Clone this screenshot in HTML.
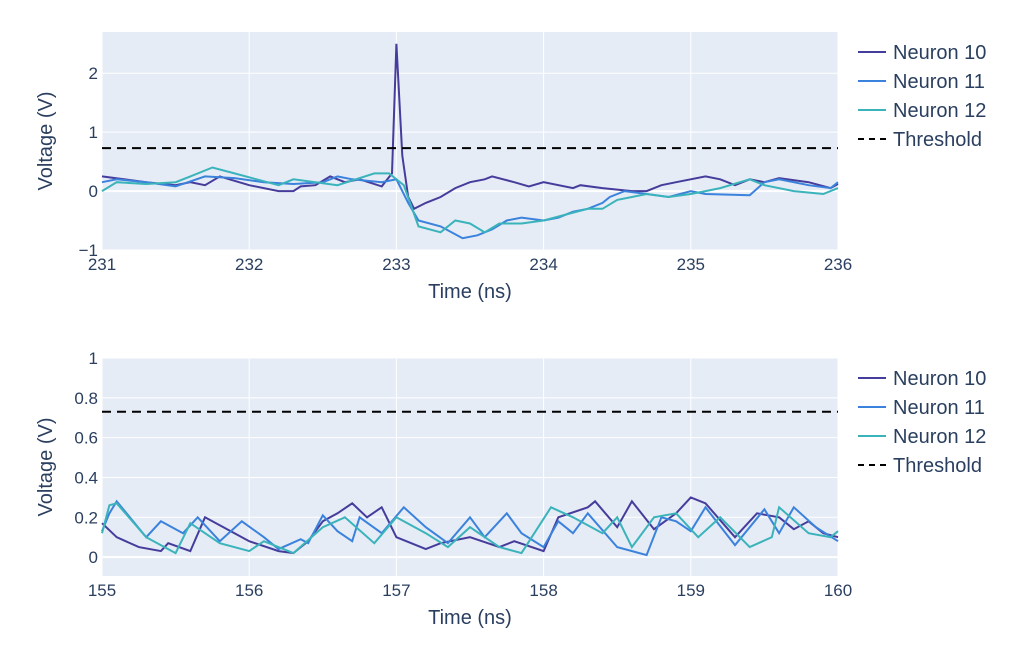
<!DOCTYPE html><html><head><style>body{margin:0;background:#fff}svg{font-family:"Liberation Sans","DejaVu Sans",sans-serif}</style></head><body>
<svg id="s" width="1023" height="648" xmlns="http://www.w3.org/2000/svg"></svg>
<script>
const S=document.getElementById('s');let h='';
const C=['#463c9b','#3b82dc','#3ab3bb'];
function plot(y0,y1,ymin,ymax,xmin,ticksY,fmt,data){
 const X0=102,X1=838;const px=t=>X0+(t-xmin)/5*(X1-X0);const py=v=>y1-(v-ymin)/(ymax-ymin)*(y1-y0);
 h+=`<rect x="${X0}" y="${y0}" width="${X1-X0}" height="${y1-y0}" fill="#e5ecf6"/>`;
 for(let i=0;i<=5;i++){const x=px(xmin+i);h+=`<line x1="${x}" x2="${x}" y1="${y0}" y2="${y1}" stroke="#fff"/>`;h+=`<text x="${x}" y="${y1+20}" font-size="17" fill="#2a3f5f" text-anchor="middle">${xmin+i}</text>`;}
 ticksY.forEach(v=>{const y=py(v);h+=`<line x1="${X0}" x2="${X1}" y1="${y}" y2="${y}" stroke="#fff" stroke-width="${v==0?2:1}"/>`;h+=`<text x="${X0-4}" y="${y+6}" font-size="17" fill="#2a3f5f" text-anchor="end">${fmt(v)}</text>`;});
 data.forEach((d,i)=>{let p=[];for(let k=0;k<d.length;k+=2)p.push(px(d[k]).toFixed(1)+','+py(d[k+1]).toFixed(1));h+=`<polyline points="${p.join(' ')}" fill="none" stroke="${C[i]}" stroke-width="2"/>`;});
 const ty=py(0.73);h+=`<line x1="${X0}" x2="${X1}" y1="${ty}" y2="${ty}" stroke="#000" stroke-width="2" stroke-dasharray="9,6"/>`;
 h+=`<text x="470" y="${y1+48}" font-size="20" fill="#2a3f5f" text-anchor="middle">Time (ns)</text>`;
 h+=`<text transform="translate(52,${(y0+y1)/2}) rotate(-90)" font-size="20" fill="#2a3f5f" text-anchor="middle">Voltage (V)</text>`;
 const names=['Neuron 10','Neuron 11','Neuron 12','Threshold'];
 names.forEach((n,i)=>{const y=y0+20+i*29;h+=`<line x1="858" x2="886" y1="${y}" y2="${y}" stroke="${i<3?C[i]:'#000'}" stroke-width="2" ${i==3?'stroke-dasharray="6,5"':''}/>`;h+=`<text x="893" y="${y+7}" font-size="20" fill="#2a3f5f">${n}</text>`;});
}
plot(32,250,-1,2.7,231,[-1,0,1,2],v=>v==-1?'−1':v,[
[231,.25,231.3,.15,231.5,.1,231.6,.15,231.7,.1,231.8,.25,232,.1,232.2,0,232.3,0,232.35,.08,232.45,.1,232.55,.25,232.65,.15,232.75,.2,232.9,.08,232.97,.3,233,2.5,233.04,.6,233.08,-.1,233.12,-.3,233.2,-.2,233.3,-.1,233.4,.05,233.5,.15,233.6,.2,233.65,.25,233.8,.15,233.9,.08,234,.15,234.2,.05,234.25,.1,234.4,.05,234.6,0,234.7,0,234.8,.1,234.9,.15,235.1,.25,235.2,.2,235.3,.1,235.4,.2,235.5,.15,235.6,.22,235.8,.15,235.95,.05,236,.12],
[231,.15,231.1,.2,231.3,.15,231.5,.08,231.7,.25,231.9,.22,232.1,.15,232.3,.12,232.5,.15,232.6,.25,232.7,.2,232.9,.15,233,.2,233.08,-.2,233.15,-.5,233.3,-.6,233.45,-.8,233.55,-.75,233.65,-.65,233.75,-.5,233.85,-.45,234,-.5,234.1,-.45,234.2,-.35,234.3,-.3,234.4,-.2,234.45,-.1,234.55,0,234.7,-.05,234.85,-.1,235,0,235.1,-.05,235.4,-.07,235.5,.15,235.6,.2,235.8,.1,235.95,.05,236,.15],
[231,0,231.1,.15,231.3,.12,231.5,.15,231.6,.25,231.75,.4,231.9,.3,232.2,.1,232.3,.2,232.6,.1,232.85,.3,232.95,.3,233.05,.1,233.15,-.6,233.3,-.7,233.4,-.5,233.5,-.55,233.6,-.7,233.7,-.55,233.85,-.55,234,-.5,234.15,-.4,234.3,-.3,234.4,-.3,234.5,-.15,234.6,-.1,234.7,-.05,234.85,-.1,235,-.05,235.1,0,235.2,.05,235.4,.2,235.5,.1,235.7,0,235.9,-.05,236,.05]]);
plot(358,576,-0.095,1,155,[0,.2,.4,.6,.8,1],v=>v,[
[155,.17,155.1,.1,155.25,.05,155.4,.03,155.45,.07,155.6,.03,155.7,.2,155.9,.12,156,.08,156.2,.03,156.3,.02,156.4,.08,156.5,.18,156.6,.22,156.7,.27,156.8,.2,156.9,.25,157,.1,157.2,.04,157.3,.07,157.5,.1,157.7,.05,157.8,.08,158,.03,158.1,.2,158.3,.25,158.35,.28,158.5,.15,158.6,.28,158.75,.14,158.9,.22,159,.3,159.1,.27,159.3,.1,159.45,.22,159.6,.2,159.7,.14,159.8,.18,159.9,.12,160,.1],
[155,.13,155.05,.22,155.1,.28,155.3,.1,155.4,.18,155.55,.12,155.65,.2,155.8,.08,155.95,.18,156.1,.1,156.2,.04,156.35,.09,156.4,.07,156.5,.21,156.6,.13,156.7,.08,156.75,.2,156.9,.12,157.05,.25,157.2,.15,157.35,.07,157.5,.2,157.6,.1,157.75,.22,157.85,.12,158,.05,158.1,.18,158.2,.12,158.3,.22,158.5,.05,158.7,.01,158.8,.2,158.9,.18,159,.13,159.1,.25,159.3,.06,159.5,.24,159.6,.12,159.7,.25,159.85,.15,160,.08],
[155,.12,155.05,.26,155.1,.27,155.3,.1,155.5,.02,155.6,.17,155.8,.07,156,.03,156.1,.08,156.3,.02,156.5,.15,156.65,.2,156.85,.07,157,.2,157.2,.12,157.35,.05,157.5,.15,157.7,.05,157.85,.02,158.05,.25,158.2,.2,158.4,.12,158.5,.2,158.6,.05,158.75,.2,158.9,.22,159.05,.1,159.2,.2,159.4,.05,159.55,.1,159.6,.25,159.8,.12,159.95,.1,160,.13]]);
S.innerHTML=h;
</script></body></html>
